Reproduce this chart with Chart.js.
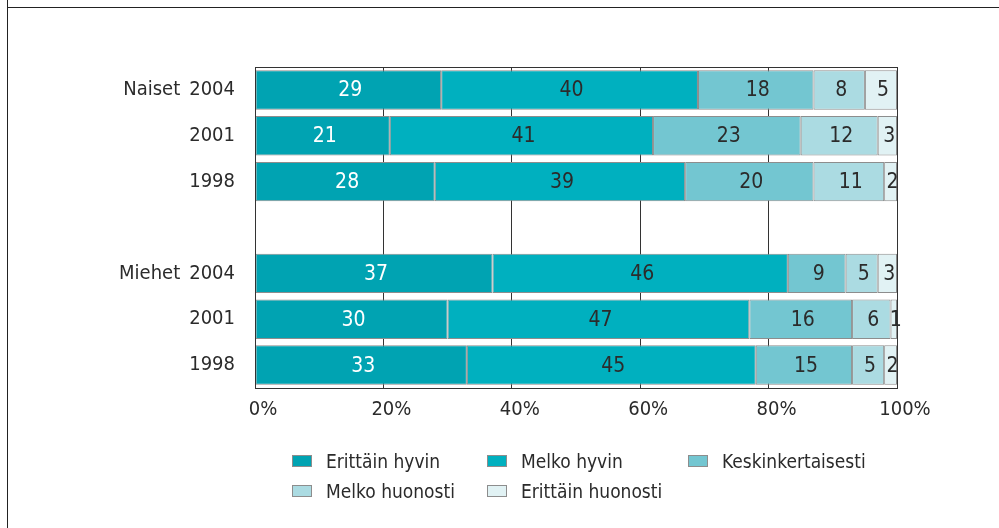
<!DOCTYPE html>
<html lang="fi">
<head>
  <meta charset="UTF-8">
  <script src="https://cdn.jsdelivr.net/npm/chart.js"></script>
  <title>Erittäin hyvin - Erittäin huonosti</title>
  <style>
    body {
      margin: 0;
      background: #fff;
      font-family: "Liberation Sans Narrow", "DejaVu Sans Condensed", sans-serif;
      color: #2b2b2b;
    }
    #wrap {
      position: relative;
      width: 999px;
      height: 528px;
      overflow: hidden;
    }
    .frame-left { position: absolute; left: 7px; top: 0; width: 1px; height: 528px; background: #222; }
    .frame-top { position: absolute; left: 7px; top: 7px; right: 0; height: 1px; background: #222; }
    #legend {
      position: absolute;
      left: 292px;
      top: 446px;
      display: grid;
      grid-template-columns: 195px 201px 200px;
    }
    .item { display: flex; align-items: center; height: 30px; font-size: 19px; white-space: nowrap; }
    .box { flex: 0 0 auto; width: 18px; height: 10px; border: 1px solid #8d8d8d; margin-right: 14px; }
  </style>
</head>
<body>
<div id="wrap">
  <canvas id="chart" width="999" height="528"></canvas>
  <div class="frame-left"></div>
  <div class="frame-top"></div>
  <div id="legend"></div>
</div>

<script>
  // rows, top to bottom (empty row = gap between groups)
  const labels = ['Naiset\u20022004', '2001', '1998', '', 'Miehet\u20022004', '2001', '1998'];

  const erittainHyvin   = [29, 21, 28, null, 37, 30, 33];
  const melkoHyvin      = [40, 41, 39, null, 46, 47, 45];
  const keskinkertaisesti = [18, 23, 20, null, 9, 16, 15];
  const melkoHuonosti   = [8, 12, 11, null, 5, 6, 5];
  const erittainHuonosti = [5, 3, 2, null, 3, 1, 2];

  const seriesNames = ['Erittäin hyvin', 'Melko hyvin', 'Keskinkertaisesti', 'Melko huonosti', 'Erittäin huonosti'];
  const seriesColors = ['#00a3b2', '#00b0bf', '#73c6d1', '#abdbe2', '#e1f2f4'];
  const xTicks = [0, 20, 40, 60, 80, 100];

  const FONT = '"Liberation Sans Narrow", "DejaVu Sans Condensed", sans-serif';

  // frame round the plot + value in the middle of each segment
  const valueLabels = {
    id: 'valueLabels',
    afterDatasetsDraw(chart) {
      const ctx = chart.ctx;
      const area = chart.chartArea;
      ctx.save();
      ctx.strokeStyle = '#333';
      ctx.lineWidth = 1;
      ctx.strokeRect(Math.round(area.left) + 0.5, Math.round(area.top) + 0.5,
        Math.round(area.right - area.left), Math.round(area.bottom - area.top));
      ctx.font = '21px ' + FONT;
      ctx.textAlign = 'center';
      ctx.textBaseline = 'middle';
      chart.data.datasets.forEach((ds, i) => {
        const meta = chart.getDatasetMeta(i);
        meta.data.forEach((bar, j) => {
          const v = ds.data[j];
          if (v == null) return;
          ctx.fillStyle = i === 0 ? '#fff' : '#2b2b2b';
          ctx.fillText(String(v), (bar.x + bar.base) / 2 + 2, bar.y + 1);
        });
      });
      ctx.restore();
    }
  };

  const allData = [erittainHyvin, melkoHyvin, keskinkertaisesti, melkoHuonosti, erittainHuonosti];

  const chart = new Chart(document.getElementById('chart').getContext('2d'), {
    type: 'bar',
    data: {
      labels: labels,
      datasets: allData.map((d, i) => ({
        label: seriesNames[i],
        data: d,
        backgroundColor: seriesColors[i],
        borderColor: '#8d8d8d',
        borderWidth: 1,
        borderSkipped: false,
        barPercentage: 0.86,
        categoryPercentage: 1
      }))
    },
    options: {
      indexAxis: 'y',
      responsive: false,
      animation: false,
      devicePixelRatio: 1,
      layout: { padding: { top: 67, right: 102, bottom: 100, left: 0 } },
      plugins: {
        legend: { display: false },
        tooltip: { enabled: false }
      },
      scales: {
        x: {
          stacked: true,
          min: 0,
          max: 100,
          afterBuildTicks: (s) => { s.ticks = xTicks.map(v => ({ value: v })); },
          ticks: {
            callback: (v) => v + '%',
            labelOffset: 8,
            padding: 10,
            color: '#2b2b2b',
            font: { family: FONT, size: 20 }
          },
          grid: { color: '#333', lineWidth: 1, drawTicks: false },
          border: { display: true, color: '#333' },
          afterFit: (s) => { s.height = 40; }
        },
        y: {
          stacked: true,
          ticks: {
            padding: 20,
            color: '#2b2b2b',
            font: { family: FONT, size: 20 }
          },
          grid: { display: false, drawTicks: false },
          border: { display: true, color: '#333' },
          afterFit: (s) => { s.width = 255; }
        }
      }
    },
    plugins: [valueLabels]
  });

  // legend, 3 columns like the original
  const legendEl = document.getElementById('legend');
  chart.data.datasets.forEach((ds) => {
    const item = document.createElement('div');
    item.className = 'item';
    item.innerHTML = '<span class="box" style="background:' + ds.backgroundColor + '"></span>' + ds.label;
    legendEl.appendChild(item);
  });
</script>
</body>
</html>
